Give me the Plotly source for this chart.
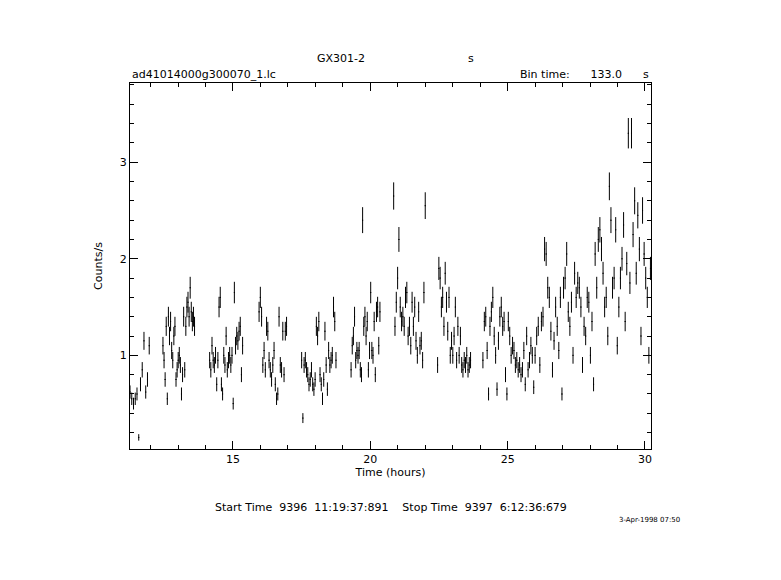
import numpy as np
import plotly.graph_objects as go

bin_s = 133.0
half_bin_h = bin_s / 3600 / 2

# (start hour, end hour) of each observation segment and the rates in it
seg_spans = [
    (11.25, 11.95), (12.45, 13.6), (14.15, 15.35), (15.95, 16.95),
    (17.5, 18.75), (19.3, 20.35), (20.85, 22.0), (22.45, 23.65),
    (24.1, 25.95), (26.0, 30.2),
]
seg_rates = [
    [0.62, 0.55, 0.5, 0.55, 0.6, 0.15, 0.7, 0.85, 1.15, 0.62, 0.75, 1.1],
    [1.1, 0.95, 0.75, 1.3, 0.55, 1.4, 1.2, 1.35, 1.05, 0.95, 1.2, 1.3, 0.75, 0.85, 0.95,
     1.0, 0.9, 0.6, 0.8, 1.4, 0.85, 1.3, 1.5, 1.55, 1.4, 1.7, 1.45, 1.35, 1.4, 1.3],
    [0.95, 0.85, 1.1, 0.95, 0.9, 1.0, 0.7, 0.95, 1.5, 1.6, 0.7, 0.6, 1.0, 0.9, 1.2,
     0.85, 0.95, 1.0, 0.9, 1.0, 0.5, 1.65, 1.1, 1.2, 1.15, 1.25, 1.3, 0.8, 1.1],
    [1.45, 1.6, 1.4, 0.9, 1.05, 0.85, 1.3, 1.25, 0.95, 0.85, 0.75, 0.9, 1.05, 0.7, 0.55,
     0.6, 1.4, 0.9, 0.85, 1.25, 0.8, 1.25, 1.3],
    [0.95, 0.35, 0.9, 0.95, 0.85, 0.8, 0.7, 0.75, 0.85, 0.7, 0.65, 0.75, 1.3, 1.2, 1.35,
     0.8, 0.7, 0.55, 0.75, 1.25, 0.9, 0.65, 1.05, 0.9, 0.95, 1.0, 1.5, 1.35, 0.95],
    [0.85, 1.1, 1.2, 1.4, 0.95, 1.05, 1.0, 1.05, 0.85, 0.8, 2.4, 1.3, 1.4, 1.2, 1.35,
     0.85, 1.05, 1.65, 1.05, 1.0, 1.35, 0.8, 1.45, 1.5, 1.1, 1.45],
    [2.65, 1.3, 1.55, 1.8, 2.2, 1.5, 1.35, 1.4, 1.3, 1.6, 1.65, 1.2, 1.3, 1.1, 1.55,
     1.3, 1.5, 1.15, 1.0, 1.45, 1.1, 1.15, 0.95, 1.65, 2.55],
    [0.9, 1.9, 1.8, 1.5, 1.6, 1.3, 1.85, 1.55, 1.25, 1.6, 1.0, 1.15, 1.0, 1.2, 1.5,
     0.95, 1.3, 1.0, 1.2, 0.9, 0.85, 0.95, 0.9, 1.0, 0.85, 0.9, 0.95],
    [0.95, 1.35, 1.4, 1.05, 0.6, 1.3, 1.45, 1.6, 1.2, 1.0, 0.65, 1.15, 1.4, 1.5, 1.3,
     1.35, 0.8, 0.6, 1.35, 1.2, 1.0, 1.1, 1.05, 0.9, 0.95, 0.85, 0.9, 0.8, 0.85, 1.05,
     0.7, 1.2, 0.85, 0.95, 1.1, 1.0, 0.67],
    [1.0, 1.2, 1.3, 0.9, 1.35, 1.4, 2.1, 2.05, 1.7, 1.6, 1.25, 0.85, 1.15, 1.5, 1.3,
     1.05, 1.6, 0.6, 1.7, 1.8, 2.05, 1.45, 1.3, 1.55, 1.0, 1.85, 1.6, 1.75, 1.7, 1.5,
     0.9, 1.3, 1.2, 1.6, 1.55, 1.0, 1.35, 0.7, 2.05, 1.7, 2.2, 2.3, 2.1, 1.85, 1.5,
     1.6, 1.2, 2.75, 2.4, 1.7, 1.8, 2.3, 1.1, 1.5, 1.8, 2.0, 2.35, 1.35, 1.95, 3.3,
     1.75, 3.3, 2.25, 2.6, 1.85, 2.45, 2.1, 1.2, 2.5, 2.05, 1.8, 1.6, 1.0, 1.9],
]

t = np.concatenate([np.linspace(a, b, len(r)) for (a, b), r in zip(seg_spans, seg_rates)])
rate = np.concatenate([np.array(r) for r in seg_rates])
err = np.sqrt(rate / bin_s)  # Poisson error per bin

fig = go.Figure(go.Scatter(
    x=t, y=rate, mode="markers", marker=dict(size=1, color="black"),
    error_y=dict(type="data", array=err, width=0, thickness=1, color="black"),
    error_x=dict(type="constant", value=half_bin_h, width=0, thickness=1, color="black"),
    showlegend=False,
))

axis = dict(showgrid=False, zeroline=False, showline=True, linecolor="black", linewidth=1,
            mirror="ticks", ticks="inside", ticklen=8, tickcolor="black",
            tickfont=dict(size=11),
            minor=dict(ticks="inside", ticklen=4, tickcolor="black"))
fig.update_xaxes(**axis, range=[11.25, 30.22], dtick=5, minor_dtick=1,
                 title=dict(text="Time (hours)", standoff=2, font=dict(size=11)))
fig.update_yaxes(**axis, range=[0.03, 3.82], dtick=1, minor_dtick=0.2,
                 title=dict(text="Counts/s", standoff=14, font=dict(size=11)))

ann = [
    dict(x=0.405, y=1.068, text="GX301-2", xanchor="center", yanchor="middle"),
    dict(x=0.655, y=1.068, text="s", xanchor="center", yanchor="middle"),
    dict(x=0, y=1.0, text="ad41014000g300070_1.lc", xanchor="left", yanchor="bottom"),
    dict(x=1.0, y=1.0, text="Bin time:      133.0      s", xanchor="right", yanchor="bottom"),
    dict(x=0.5, y=-0.16, text="Start Time  9396  11:19:37:891    Stop Time  9397  6:12:36:679",
         xanchor="center", yanchor="middle"),
]
for a in ann:
    fig.add_annotation(xref="paper", yref="paper", showarrow=False, font=dict(size=11), **a)
fig.add_annotation(xref="paper", yref="paper", x=1.06, y=-0.21, text="3-Apr-1998 07:50",
                   showarrow=False, xanchor="right", font=dict(size=7))

fig.update_layout(width=781, height=580, paper_bgcolor="white", plot_bgcolor="white",
                  margin=dict(l=122, r=138, t=75, b=139),
                  font=dict(family="DejaVu Sans", size=11, color="black"))
fig.write_html("out.html")
